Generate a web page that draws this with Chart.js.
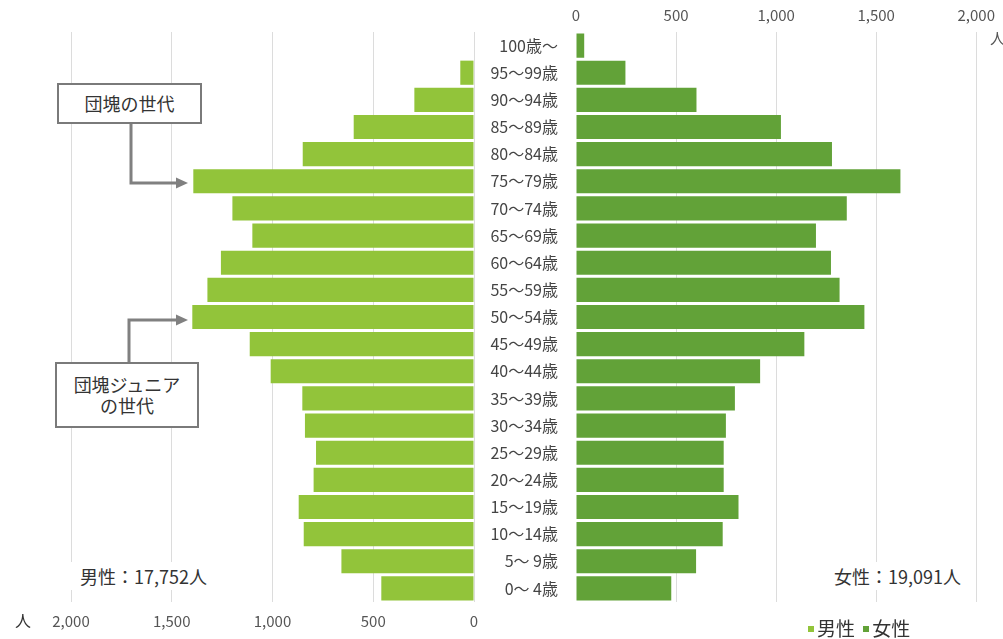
<!DOCTYPE html>
<html><head><meta charset="utf-8">
<script src="https://cdn.jsdelivr.net/npm/chart.js@4.4.0/dist/chart.umd.min.js"></script>
<style>
html,body{margin:0;padding:0;background:#fff;}
#wrap{position:relative;width:1003px;height:639px;overflow:hidden;font-family:"Noto Sans CJK JP","Noto Sans",sans-serif;color:#333;}
canvas{position:absolute;left:0;top:0;}
svg{position:absolute;left:0;top:0;}
.box{position:absolute;border:2px solid #7a7a7a;background:#fff;box-sizing:border-box;display:flex;align-items:center;justify-content:center;text-align:center;font-size:18px;line-height:21px;color:#333;}
.t{position:absolute;white-space:nowrap;background:#fff;color:#333;font-size:18px;line-height:28px;}
.lg{position:absolute;white-space:nowrap;font-size:19px;line-height:22px;color:#333;}
.sq{display:inline-block;width:6px;height:6px;margin-right:3px;vertical-align:middle;position:relative;top:-2px;}
</style></head><body>
<div id="wrap">
<canvas id="cl" width="1003" height="639"></canvas>
<canvas id="cr" width="1003" height="639"></canvas>
<svg width="1003" height="639">
  <polyline points="131,123 131,183 178,183" fill="none" stroke="#808080" stroke-width="3"/>
  <polygon points="176,177.5 188,183 176,188.5" fill="#808080"/>
  <polyline points="129,362 129,320 178,320" fill="none" stroke="#808080" stroke-width="3"/>
  <polygon points="176,314.5 188,320 176,325.5" fill="#808080"/>
</svg>
<div class="box" style="left:57px;top:83px;width:145px;height:41px;">団塊の世代</div>
<div class="box" style="left:55px;top:362px;width:144px;height:66px;">団塊ジュニア<br>の世代</div>
<div class="t" id="mt" style="left:66px;top:562px;padding:0 8px 0 14px;"></div>
<div class="t" id="ft" style="left:822px;top:562px;padding:0 14px 0 12px;"></div>
<div class="t" style="left:15px;top:606px;font-size:16px;background:none;">人</div>
<div class="t" style="left:990px;top:24px;font-size:15px;background:none;color:#555;">人</div>
<div class="lg" style="left:808px;top:617px;"><span class="sq" id="sqm"></span>男性 <span class="sq" id="sqf" style="margin-left:4px;"></span>女性</div>
</div>
<script>
const ageLabels = ["100歳～","95～99歳","90～94歳","85～89歳","80～84歳","75～79歳","70～74歳","65～69歳","60～64歳","55～59歳","50～54歳","45～49歳","40～44歳","35～39歳","30～34歳","25～29歳","20～24歳","15～19歳","10～14歳","5～ 9歳","0～ 4歳"];
const maleValues   = [0,68,296,597,850,1393,1199,1100,1256,1323,1398,1113,1009,852,839,784,796,870,845,658,460];
const femaleValues = [41,247,602,1024,1279,1621,1353,1199,1274,1317,1441,1141,920,794,749,738,738,812,733,600,476];
const axisMin = 0, axisMax = 2000, axisStep = 500;
const maleTotalText = "男性：17,752人";
const femaleTotalText = "女性：19,091人";
const maleColor = "#92c43a";
const femaleColor = "#62a238";

document.getElementById('mt').textContent = maleTotalText;
document.getElementById('ft').textContent = femaleTotalText;
document.getElementById('sqm').style.background = maleColor;
document.getElementById('sqf').style.background = femaleColor;

const FONT = '"Noto Sans CJK JP","Noto Sans",sans-serif';
const fmt = v => Number(v).toLocaleString('en-US');

new Chart(document.getElementById('cl'), {
  type: 'bar',
  data: { labels: ageLabels, datasets: [{ label: '男性', data: maleValues, backgroundColor: maleColor, borderWidth: 0, barPercentage: 1, categoryPercentage: 0.89 }] },
  options: {
    indexAxis: 'y', responsive: false, animation: false, devicePixelRatio: 1,
    layout: { padding: { left: 71, right: 529, top: 32, bottom: 0 } },
    plugins: { legend: { display: false }, tooltip: { enabled: false } },
    scales: {
      x: { position: 'bottom', reverse: true, min: axisMin, max: axisMax,
        ticks: { stepSize: axisStep, padding: 10, color: '#555', font: { size: 15, family: FONT }, callback: fmt },
        grid: { color: '#dcdcdc', drawTicks: false, lineWidth: 1 }, border: { display: false },
        afterFit: s => { s.height = 37; } },
      y: { display: false }
    }
  }
});

new Chart(document.getElementById('cr'), {
  type: 'bar',
  data: { labels: ageLabels, datasets: [{ label: '女性', data: femaleValues, backgroundColor: femaleColor, borderWidth: 0, barPercentage: 1, categoryPercentage: 0.89 }] },
  options: {
    indexAxis: 'y', responsive: false, animation: false, devicePixelRatio: 1,
    layout: { padding: { left: 0, right: 22, top: 0, bottom: 37 } },
    plugins: { legend: { display: false }, tooltip: { enabled: false } },
    scales: {
      x: { position: 'top', min: axisMin, max: axisMax,
        ticks: { stepSize: axisStep, padding: 8, color: '#555', font: { size: 15, family: FONT }, callback: fmt },
        grid: { color: c => (c.tick && c.tick.value === 0) ? 'rgba(0,0,0,0)' : '#dcdcdc', drawTicks: false, lineWidth: 1 },
        border: { display: false },
        afterFit: s => { s.height = 32; } },
      y: { position: 'left', grid: { display: false }, border: { display: false },
        ticks: { padding: 10, autoSkip: false, color: '#444', font: { size: 16, family: FONT } },
        afterFit: s => { s.width = 576; } }
    }
  }
});
</script>
</body></html>
